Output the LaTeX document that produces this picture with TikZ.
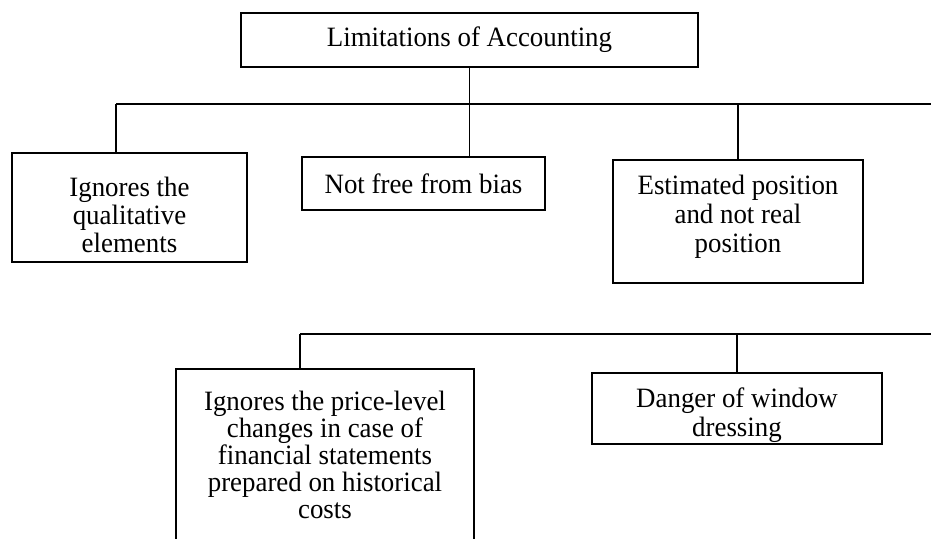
\documentclass[tikz,border=0pt]{standalone}
\usepackage{fontspec}
\setmainfont{Liberation Serif}[FakeStretch=0.96]
\usetikzlibrary{calc}
\tikzstyle{limitbox}=[rectangle,draw,fill=white,line width=1.7pt,align=center,inner sep=0pt,font=\fontsize{28}{29}\selectfont]
\tikzstyle{branch}=[draw,line width=1.7pt]
\begin{document}
\begin{tikzpicture}[x=1pt,y=-1pt]
    \useasboundingbox (0,0) rectangle (931,538);
    \clip (0,0) rectangle (931,538);

    \node[limitbox,minimum width=457,minimum height=54] (top) at (469.5,40) {Limitations of Accounting};

    % boxes of the first row and second row
    \foreach \pos/\name/\bw/\bh/\ls/\txt in {{(129.5,207.5)/b1/235/109/28/{\rule{0pt}{35pt}Ignores the\\qualitative\\elements}},
        {(423.5,183.5)/b2/243/53/29/{Not free from bias}},
        {(738,221.5)/b3/250/123/29/{Estimated position\\and not real\\position\rule[-16pt]{0pt}{0pt}}},
        {(325,455)/b4/298/172/27/{Ignores the price-level\\changes in case of\\financial statements\\prepared on historical\\costs}},
        {(737,408.5)/b5/290/71/28.5/{\rule{0pt}{33pt}Danger of window\\dressing}}}
        \node[limitbox,minimum width=\bw,minimum height=\bh,font=\fontsize{28}{\ls}\selectfont] (\name) at \pos {\txt};

    % bus lines, running on past the right edge
    \coordinate (bus1L) at (116,104);
    \coordinate (bus1R) at (935,104);
    \coordinate (bus2L) at (300,334);
    \coordinate (bus2R) at (935,334);

    \path[branch] (bus1L) -- (bus1R);
    \path[branch] (bus2L) -- (bus2R);

    % connect boxes to the bus lines
    \path[branch] (top.south) -- (top.south |- b2.north);
    \path[branch] (bus1L) -- (bus1L |- b1.north);
    \path[branch] (b3.north) -- (b3.north |- bus1R);
    \path[branch] (bus2L) -- (bus2L |- b4.north);
    \path[branch] (b5.north) -- (b5.north |- bus2R);

\end{tikzpicture}
\end{document}
